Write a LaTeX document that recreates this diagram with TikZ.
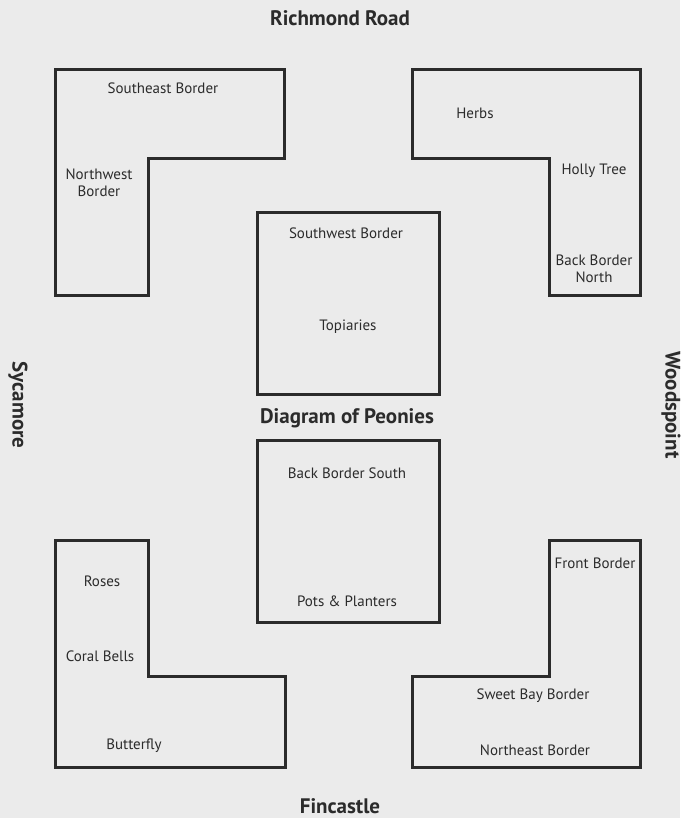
\documentclass[tikz,border=0pt]{standalone}
\usepackage{fontspec}
\setmainfont{PT Sans}
\usepackage{tikz}
\usetikzlibrary{positioning}
\definecolor{paper}{HTML}{EBEBEB}
\definecolor{ink}{HTML}{2B2B2B}

\begin{document}
\begin{tikzpicture}[x=1pt,y=-1pt,
    bed/.style={draw=ink,line width=3pt,line join=miter},
    lbl/.style={font=\fontsize{15}{16.5}\selectfont,text=ink,align=center,inner sep=0pt},
    road/.style={font=\fontsize{21}{23}\selectfont\bfseries,text=ink,inner sep=0pt}]
  \fill[paper] (0,0) rectangle (680,818);
  \useasboundingbox (0,0) rectangle (680,818);
  % beds
  \draw[bed] (55,70)--(284,70)--(284,159)--(148,159)--(148,295)--(55,295)--cycle;
  \draw[bed] (412,70)--(640,70)--(640,295)--(549,295)--(549,159)--(412,159)--cycle;
  \draw[bed] (257,213) rectangle (439,394);
  \draw[bed] (257,440) rectangle (439,622);
  \draw[bed] (55,540)--(148,540)--(148,676)--(285,676)--(285,767)--(55,767)--cycle;
  \draw[bed] (549,540)--(640,540)--(640,767)--(412,767)--(412,676)--(549,676)--cycle;
  % bed labels
  \foreach [count=\i] \l/\x/\y in {{Southeast Border}/163/88, {Northwest\\Border}/99/183,
                                   {Herbs}/475/113, {Holly Tree}/594/171, {Back Border\\North}/594/269,
                                   {Southwest Border}/346/233, {Topiaries}/348/327,
                                   {Back Border South}/347/473, {Pots \& Planters}/347/601,
                                   {Roses}/102/581, {Coral Bells}/100/656, {Butterfly}/134/746,
                                   {Front Border}/595/563, {Sweet Bay Border}/533/696, {Northeast Border}/535/750}{
    \node[lbl] (bed\i) at (\x,\y) {\l};
  }
  % streets
  \node[road] (richmond) at (340,18) {Richmond Road};
  \node[road] (fincastle) at (340,806) {Fincastle};
  \node[road,rotate=-90] (sycamore) at (18,405) {Sycamore};
  \node[road,rotate=-90] (woodspoint) at (671,405) {Woodspoint};
  \node[road] (title) at (347,418) {Diagram of Peonies};
\end{tikzpicture}
\end{document}
